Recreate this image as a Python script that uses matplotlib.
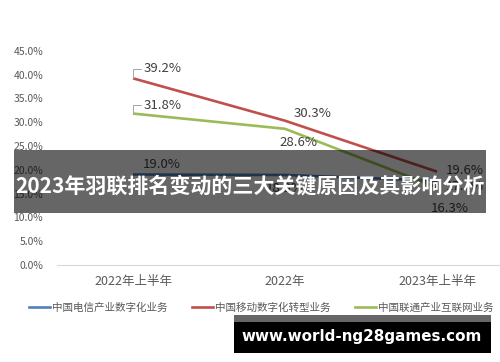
import matplotlib.pyplot as plt
from matplotlib.lines import Line2D
from matplotlib.patches import Rectangle

plt.rcParams['font.family'] = ['Noto Sans CJK SC', 'DejaVu Sans']

# Data
periods = ["2022年上半年", "2022年", "2023年上半年"]
telecom = [19.0, 18.9, 17.7]
mobile = [39.2, 30.3, 19.6]
unicom = [31.8, 28.6, 16.3]
series_names = ["中国电信产业数字化业务", "中国移动数字化转型业务", "中国联通产业互联网业务"]
colors = ["#4F81BD", "#C0504D", "#9BBB59"]
yticks = [0, 5, 10, 15, 20, 25, 30, 35, 40, 45]

W, H = 500, 362
fig = plt.figure(figsize=(W / 100, H / 100), dpi=100)
ax = fig.add_axes([57 / W, 1 - 265 / H, 456 / W, (265 - 50.7) / H])

x = range(len(periods))
for vals, c in zip([telecom, mobile, unicom], colors):
    ax.plot(x, vals, color=c, lw=1.9, solid_capstyle="butt")

ax.set_xlim(-0.5, 2.5)
ax.set_ylim(0, 45)
ax.set_yticks(yticks)
ax.set_yticklabels([f"{v:.1f}%" for v in yticks])
ax.set_xticks(list(x))
ax.set_xticklabels(periods)
ax.tick_params(length=0, colors="#595959", labelsize=7.5)
ax.tick_params(axis="y", pad=10)
ax.tick_params(axis="x", pad=7, labelsize=9)
for s in ["top", "right", "left"]:
    ax.spines[s].set_visible(False)
ax.spines["bottom"].set_color("#d9d9d9")

lab = dict(fontsize=9.5, color="#404040")
lead = dict(arrowstyle="-", color="#a6a6a6", lw=0.7,
            connectionstyle="angle,angleA=0,angleB=90,rad=0",
            shrinkA=0, shrinkB=0)

# data labels
ax.annotate(f"{mobile[0]:.1f}%", (0, mobile[0]), xytext=(8, 7), textcoords="offset points",
            va="center", ha="left", arrowprops=lead, **lab)
ax.annotate(f"{unicom[0]:.1f}%", (0, unicom[0]), xytext=(8, 6), textcoords="offset points",
            va="center", ha="left", arrowprops=lead, **lab)
ax.annotate(f"{telecom[0]:.1f}%", (0, telecom[0]), xytext=(7, 7), textcoords="offset points",
            va="center", ha="left", **lab)
ax.annotate(f"{mobile[1]:.1f}%", (1, mobile[1]), xytext=(6, 5), textcoords="offset points",
            va="center", ha="left", **lab)
ax.annotate(f"{unicom[1]:.1f}%", (1, unicom[1]), xytext=(10, -10), textcoords="offset points",
            va="center", ha="center", **lab)
ax.annotate(f"{telecom[1]:.1f}%", (1, telecom[1]), xytext=(0, -10), textcoords="offset points",
            va="center", ha="center", **lab)
ax.annotate(f"{mobile[2]:.1f}%", (2, mobile[2]), xytext=(6, 1), textcoords="offset points",
            va="center", ha="left", **lab)
ax.annotate(f"{telecom[2]:.1f}%", (2, telecom[2]), xytext=(6, -4), textcoords="offset points",
            va="center", ha="left", **lab)
ax.annotate(f"{unicom[2]:.1f}%", (2, unicom[2]), xytext=(9, -15), textcoords="offset points",
            va="center", ha="center", **lab)

handles = [Line2D([], [], color=c, lw=1.9) for c in colors]
fig.legend(handles, series_names, loc="center", bbox_to_anchor=(0.522, 1 - 308 / H),
           ncol=3, frameon=False, fontsize=7.6, handlelength=2.0, handletextpad=0.2,
           columnspacing=2.3, labelcolor="#595959")

# overlay banner
fig.patches.append(Rectangle((14 / W, 1 - 213 / H), 472 / W, 63 / H, transform=fig.transFigure,
                             facecolor="black", alpha=0.6, zorder=5))
fig.text(0.5, 1 - 186 / H, "2023年羽联排名变动的三大关键原因及其影响分析", ha="center", va="center",
         color="white", fontsize=15.1, fontweight="bold", zorder=6)

# watermark
fig.patches.append(Rectangle((234 / W, 1 - 353 / H), 257 / W, 38 / H, transform=fig.transFigure,
                             facecolor="#666666", zorder=5))
fig.patches.append(Rectangle((234 / W, 1 - 353 / H), 257 / W, 31 / H, transform=fig.transFigure,
                             facecolor="black", zorder=5))
fig.text(361.5 / W, 1 - 337 / H, "www.world-ng28games.com", ha="center", va="center",
         color="white", fontsize=10.9, fontweight="bold", family="DejaVu Sans", zorder=6)

fig.savefig("out.png", dpi=100)
